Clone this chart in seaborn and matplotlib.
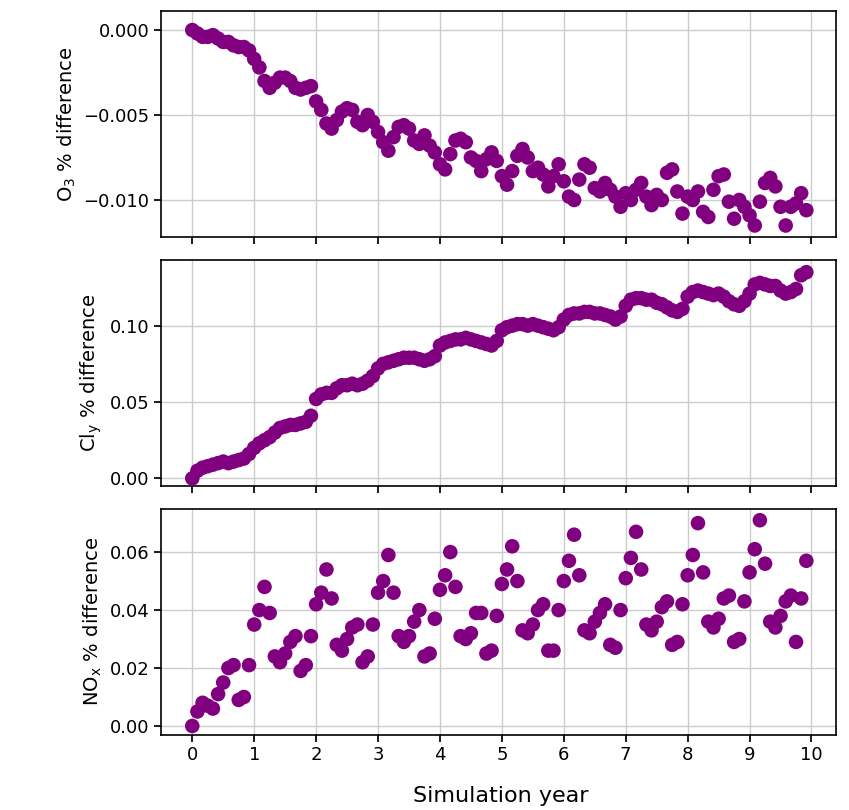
import numpy as np
import pandas as pd
import matplotlib
matplotlib.use("Agg")
import matplotlib.pyplot as plt
import seaborn as sns

# monthly output, 10 years
years = np.arange(120) / 12

o3_diff = [
    0, -0.0002, -0.0004, -0.0004, -0.0003, -0.0005, -0.0007, -0.0007, -0.0009, -0.0010, -0.0010, -0.0012,
    -0.0017, -0.0022, -0.0030, -0.0034, -0.0031, -0.0028, -0.0028, -0.0030, -0.0034, -0.0035, -0.0034, -0.0033,
    -0.0042, -0.0047, -0.0055, -0.0058, -0.0053, -0.0048, -0.0046, -0.0047, -0.0054, -0.0056, -0.0050, -0.0054,
    -0.0060, -0.0066, -0.0071, -0.0063, -0.0057, -0.0056, -0.0058, -0.0065, -0.0067, -0.0062, -0.0068, -0.0072,
    -0.0079, -0.0082, -0.0073, -0.0065, -0.0064, -0.0066, -0.0075, -0.0077, -0.0083, -0.0076, -0.0072, -0.0077,
    -0.0086, -0.0091, -0.0083, -0.0074, -0.0070, -0.0075, -0.0083, -0.0081, -0.0085, -0.0092, -0.0086, -0.0079,
    -0.0089, -0.0098, -0.0100, -0.0088, -0.0079, -0.0081, -0.0093, -0.0095, -0.0090, -0.0094, -0.0098, -0.0104,
    -0.0096, -0.0100, -0.0094, -0.0090, -0.0098, -0.0103, -0.0097, -0.0100, -0.0084, -0.0082, -0.0095, -0.0108,
    -0.0098, -0.0100, -0.0095, -0.0107, -0.0110, -0.0094, -0.0086, -0.0085, -0.0101, -0.0111, -0.0100, -0.0104,
    -0.0109, -0.0115, -0.0101, -0.0090, -0.0087, -0.0092, -0.0104, -0.0115, -0.0104, -0.0102, -0.0096, -0.0106,
]

cly_diff = [
    .000, .005, .007, .008, .009, .010, .011, .010, .011, .012, .013, .016,
    .020, .023, .025, .027, .030, .033, .034, .035, .035, .036, .037, .041,
    .052, .055, .056, .056, .059, .061, .061, .062, .061, .062, .064, .067,
    .072, .075, .076, .077, .078, .079, .079, .079, .078, .077, .078, .080,
    .087, .089, .090, .091, .091, .092, .091, .090, .089, .088, .087, .090,
    .097, .099, .100, .101, .101, .100, .101, .100, .099, .098, .097, .099,
    .104, .107, .108, .108, .109, .109, .108, .108, .107, .106, .104, .106,
    .113, .117, .118, .118, .117, .117, .115, .114, .112, .110, .109, .111,
    .119, .122, .123, .122, .121, .120, .121, .119, .116, .114, .113, .116,
    .121, .127, .128, .127, .126, .126, .123, .121, .122, .124, .133, .135,
]

nox_diff = [
    0.000, 0.005, 0.008, 0.007, 0.006, 0.011, 0.015, 0.020, 0.021, 0.009, 0.010, 0.021,
    0.035, 0.040, 0.048, 0.039, 0.024, 0.022, 0.025, 0.029, 0.031, 0.019, 0.021, 0.031,
    0.042, 0.046, 0.054, 0.044, 0.028, 0.026, 0.030, 0.034, 0.035, 0.022, 0.024, 0.035,
    0.046, 0.050, 0.059, 0.046, 0.031, 0.029, 0.031, 0.036, 0.040, 0.024, 0.025, 0.037,
    0.047, 0.052, 0.060, 0.048, 0.031, 0.030, 0.032, 0.039, 0.039, 0.025, 0.026, 0.038,
    0.049, 0.054, 0.062, 0.050, 0.033, 0.032, 0.035, 0.040, 0.042, 0.026, 0.026, 0.040,
    0.050, 0.057, 0.066, 0.052, 0.033, 0.032, 0.036, 0.039, 0.042, 0.028, 0.027, 0.040,
    0.051, 0.058, 0.067, 0.054, 0.035, 0.033, 0.036, 0.041, 0.043, 0.028, 0.029, 0.042,
    0.052, 0.059, 0.070, 0.053, 0.036, 0.034, 0.037, 0.044, 0.045, 0.029, 0.030, 0.043,
    0.053, 0.061, 0.071, 0.056, 0.036, 0.034, 0.038, 0.043, 0.045, 0.029, 0.044, 0.057,
]

ylabels = [r"O$_3$ % difference", r"Cl$_\mathrm{y}$ % difference", r"NO$_\mathrm{x}$ % difference"]

df = pd.DataFrame({"year": years, "o3": o3_diff, "cly": cly_diff, "nox": nox_diff})

sns.set_theme(style="ticks")
plt.rcParams['font.family'] = ['DejaVu Sans']
plt.rcParams['text.color'] = 'black'
plt.rcParams['axes.labelcolor'] = 'black'
plt.rcParams['xtick.color'] = 'black'
plt.rcParams['ytick.color'] = 'black'

fig, axes = plt.subplots(3, 1, figsize=(8.49, 8.1), dpi=100, sharex=True)
fig.subplots_adjust(left=0.19, right=0.985, top=0.986, bottom=0.093, hspace=0.1)

for ax, col, lab in zip(axes, ["o3", "cly", "nox"], ylabels):
    sns.scatterplot(data=df, x="year", y=col, ax=ax, color="purple", s=110,
                    edgecolor="none", zorder=3)
    ax.set_ylabel(lab, fontsize=14)
    ax.set_xlabel("")
    ax.grid(True, color="#cccccc", linewidth=1)
    ax.tick_params(labelsize=13, length=5)
    for sp in ax.spines.values():
        sp.set_color("black")
        sp.set_linewidth(1.2)

axes[0].set_yticks([0.0, -0.005, -0.010])
axes[0].set_yticklabels(["0.000", "\u22120.005", "\u22120.010"])
axes[0].set_ylim(-0.0122, 0.0011)
axes[1].set_yticks([0.0, 0.05, 0.10])
axes[1].set_ylim(-0.005, 0.143)
axes[2].set_yticks([0.0, 0.02, 0.04, 0.06])
axes[2].set_ylim(-0.003, 0.075)
axes[2].set_xlim(-0.5, 10.4)
axes[2].set_xticks(range(11))
fig.supxlabel("Simulation year", fontsize=16, x=0.59, y=0.005)

fig.savefig("out.png", dpi=100)
